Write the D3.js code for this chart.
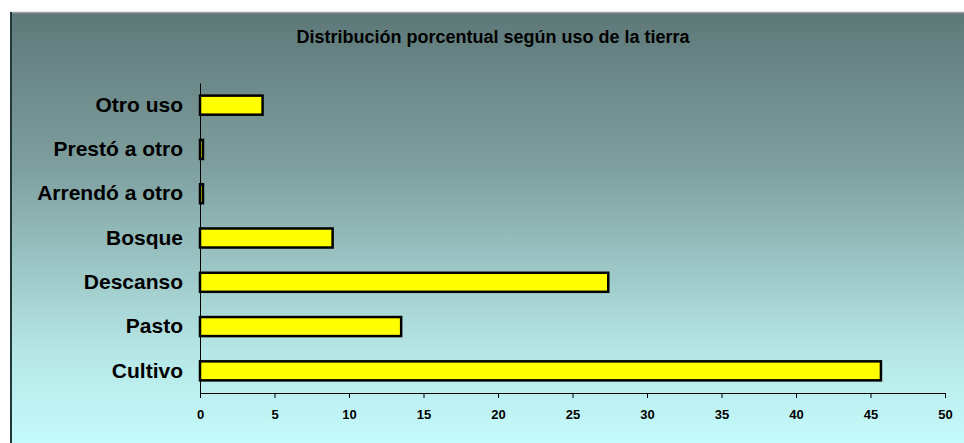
<!DOCTYPE html>
<html>
<head>
<meta charset="utf-8">
<script src="https://cdn.jsdelivr.net/npm/d3@7"></script>
<style>
  body { margin: 0; background: #ffffff; }
  text { font-family: "Liberation Sans", Arial, sans-serif; font-weight: bold; fill: #000; }
</style>
</head>
<body>
<script>
const categories = ["Otro uso", "Prestó a otro", "Arrendó a otro", "Bosque", "Descanso", "Pasto", "Cultivo"]
const values = [4.2, 0.2, 0.2, 8.9, 27.4, 13.5, 45.7]
const xTicks = [0, 5, 10, 15, 20, 25, 30, 35, 40, 45, 50]
const title = "Distribución porcentual según uso de la tierra"

const width = 964
const height = 443

const svg = d3.select("body")
    .append("svg")
    .attr("width", width)
    .attr("height", height)

// background gradient
const grad = svg.append("defs")
    .append("linearGradient")
    .attr("id", "bg")
    .attr("x1", 0).attr("y1", 0)
    .attr("x2", 0).attr("y2", 1)
grad.append("stop").attr("offset", "0%").attr("stop-color", "#5e7878")
grad.append("stop").attr("offset", "35%").attr("stop-color", "#7fa0a0")
grad.append("stop").attr("offset", "75%").attr("stop-color", "#b6e6e6")
grad.append("stop").attr("offset", "100%").attr("stop-color", "#c8ffff")

svg.append("rect")
    .attr("x", 11).attr("y", 13)
    .attr("width", 970).attr("height", 450)
    .attr("fill", "url(#bg)")

// frame edges
svg.append("line")
    .attr("x1", 10).attr("x2", 964)
    .attr("y1", 12.5).attr("y2", 12.5)
    .attr("stroke", "#a0a0a0").attr("stroke-width", 1.5)
svg.append("line")
    .attr("x1", 11).attr("x2", 11)
    .attr("y1", 12).attr("y2", 443)
    .attr("stroke", "#203838").attr("stroke-width", 2)

// title
svg.append("text")
    .attr("x", 493)
    .attr("y", 43)
    .attr("text-anchor", "middle")
    .style("font-size", "18px")
    .text(title)

const sx = d3.scaleLinear()
    .domain([0, 50])
    .range([200, 945])

const sy = d3.scaleBand()
    .domain(categories)
    .range([83, 393])
    .paddingInner(0.57)
    .paddingOuter(0.285)

// bars
svg.append("g")
    .selectAll("rect")
    .data(categories)
    .enter().append("rect")
    .attr("x", sx(0))
    .attr("y", d => sy(d))
    .attr("width", (d, i) => sx(values[i]) - sx(0))
    .attr("height", sy.bandwidth())
    .attr("fill", "#ffff00")
    .attr("stroke", "#000")
    .attr("stroke-width", 2.5)

// y axis
const yAxis = svg.append("g")
    .attr("transform", `translate(${sx(0)},0)`)
    .call(d3.axisLeft(sy).tickSize(0).tickPadding(17))
yAxis.select(".domain").attr("stroke", "#000").attr("stroke-width", 1)
yAxis.selectAll("text")
    .style("font-size", "21px")
    .style("font-family", "'Liberation Sans', Arial, sans-serif")
    .style("font-weight", "bold")

// x axis
const xAxis = svg.append("g")
    .attr("transform", `translate(0,${393})`)
    .call(d3.axisBottom(sx).tickValues(xTicks).tickSize(5).tickSizeOuter(5).tickPadding(12))
xAxis.select(".domain").attr("stroke", "#000")
xAxis.selectAll("text")
    .style("font-size", "13px")
    .style("font-family", "'Liberation Sans', Arial, sans-serif")
    .style("font-weight", "bold")
</script>
</body>
</html>
